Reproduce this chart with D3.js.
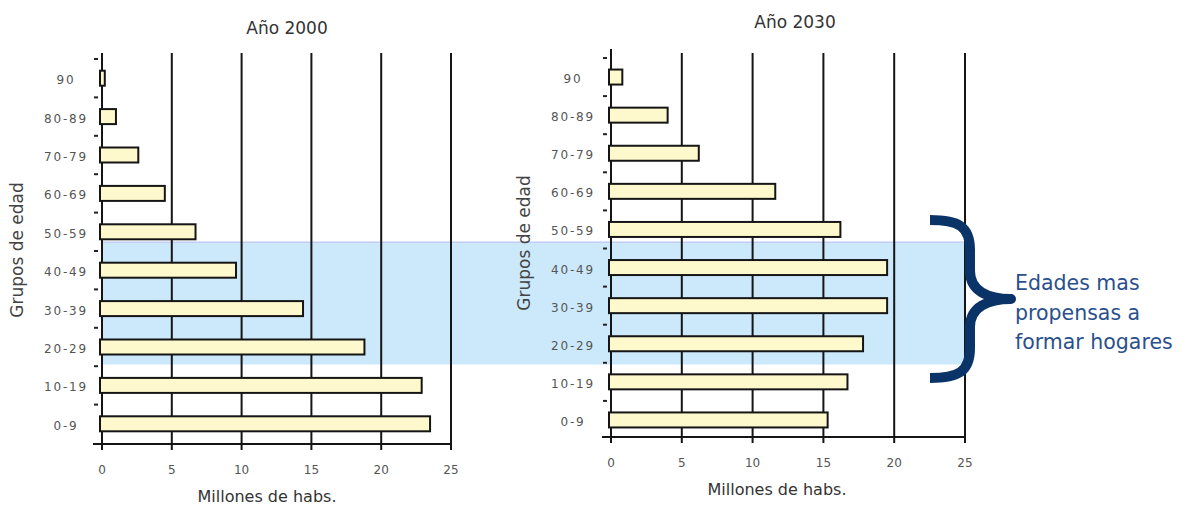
<!DOCTYPE html>
<html>
<head>
<meta charset="utf-8">
<script src="https://cdn.jsdelivr.net/npm/d3@7"></script>
<style>
  html, body { margin: 0; padding: 0; background: #ffffff; }
  svg { display: block; }
</style>
</head>
<body>
<svg id="chart" width="1183" height="506"></svg>
<script>
// ---- data ----
const categories = ["90", "80-89", "70-79", "60-69", "50-59", "40-49", "30-39", "20-29", "10-19", "0-9"];
const values2000 = [0.2, 1.0, 2.6, 4.5, 6.7, 9.6, 14.4, 18.8, 22.9, 23.5];
const values2030 = [0.8, 4.0, 6.2, 11.6, 16.2, 19.5, 19.5, 17.8, 16.7, 15.3];
const xTicks = [0, 5, 10, 15, 20, 25];
const chartTitles = ["Año 2000", "Año 2030"];
const xAxisTitle = "Millones de habs.";
const yAxisTitle = "Grupos de edad";
const highlightCats = ["40-49", "30-39", "20-29"];
const noteLines = ["Edades mas", "propensas a", "formar hogares"];

// ---- layout ----
const svg = d3.select("#chart");
const FONT = "'DejaVu Sans', Verdana, sans-serif";

const panels = [
  { title: chartTitles[0], values: values2000, x0: 102, x1: 451, yTop: 59, yBot: 443, axisTop: 53, gridTop: 53, axisY: 444,
    titleX: 287, titleY: 34, labelX: 66, xLabY: 474, xTitleX: 267, xTitleY: 502, yTitleX: 23, yTitleY: 250 },
  { title: chartTitles[1], values: values2030, x0: 611, x1: 965, yTop: 58, yBot: 439, axisTop: 49, gridTop: 53, axisY: 437,
    titleX: 795, titleY: 28, labelX: 573, xLabY: 467, xTitleX: 777, xTitleY: 495, yTitleX: 530, yTitleY: 243 }
];

panels.forEach(p => {
  p.x = d3.scaleLinear().domain([0, 25]).range([p.x0, p.x1]);
  p.y = d3.scaleBand().domain(categories).range([p.yTop, p.yBot]).padding(0);
});

// highlight band (spans both charts)
const hTop = d3.mean(panels, p => p.y(highlightCats[0])) - 8;
const hBot = d3.mean(panels, p => p.y(highlightCats[highlightCats.length - 1]) + p.y.step());
svg.append("rect")
  .attr("x", panels[0].x(0) + 1).attr("y", hTop)
  .attr("width", panels[1].x(25) - panels[0].x(0)).attr("height", hBot - hTop)
  .attr("fill", "#cce9fb");
svg.append("line")
  .attr("x1", panels[0].x(0) + 1).attr("x2", panels[1].x(25))
  .attr("y1", hTop + 0.5).attr("y2", hTop + 0.5)
  .attr("stroke", "#c6cdf3").attr("stroke-width", 1.5);

panels.forEach(p => {
  const g = svg.append("g");
  const barH = 15;

  // gridlines (incl. tick extensions below axis)
  g.selectAll("line.grid").data(xTicks.slice(1)).join("line")
    .attr("x1", d => p.x(d)).attr("x2", d => p.x(d))
    .attr("y1", p.gridTop).attr("y2", p.axisY + 6)
    .attr("stroke", "#151515").attr("stroke-width", 2);

  // bottom axis line
  g.append("line")
    .attr("x1", p.x(0) - 9).attr("x2", p.x(25))
    .attr("y1", p.axisY).attr("y2", p.axisY)
    .attr("stroke", "#151515").attr("stroke-width", 2);

  // left axis line
  g.append("line")
    .attr("x1", p.x(0)).attr("x2", p.x(0))
    .attr("y1", p.axisTop).attr("y2", p.axisY + 6)
    .attr("stroke", "#151515").attr("stroke-width", 2);

  // category boundary dashes
  const bounds = categories.map(c => p.y(c));
  g.selectAll("line.dash").data(bounds).join("line")
    .attr("x1", p.x(0) - 8).attr("x2", p.x(0) - 4)
    .attr("y1", d => d).attr("y2", d => d)
    .attr("stroke", "#222").attr("stroke-width", 2);

  // bars
  g.selectAll("rect.bar").data(categories.map((c, i) => ({ c, v: p.values[i] }))).join("rect")
    .attr("x", p.x(0) - 2)
    .attr("y", d => p.y(d.c) + (p.y.step() - barH) / 2)
    .attr("width", d => Math.max(1, p.x(d.v) - p.x(0) + 2))
    .attr("height", barH)
    .attr("fill", "#fdf9cc").attr("stroke", "#151515").attr("stroke-width", 2);

  // category labels
  g.selectAll("text.cat").data(categories).join("text")
    .attr("x", p.labelX).attr("y", d => p.y(d) + p.y.step() / 2 + 6)
    .attr("text-anchor", "middle")
    .attr("font-family", FONT).attr("font-size", 12).attr("letter-spacing", 1.8)
    .attr("fill", "#555").text(d => d);

  // x tick labels
  g.selectAll("text.xt").data(xTicks).join("text")
    .attr("x", d => p.x(d)).attr("y", p.xLabY)
    .attr("text-anchor", "middle")
    .attr("font-family", FONT).attr("font-size", 12)
    .attr("fill", "#555").text(d => d);

  // title
  g.append("text").attr("x", p.titleX).attr("y", p.titleY)
    .attr("text-anchor", "middle").attr("font-family", FONT).attr("font-size", 17)
    .attr("fill", "#333").text(p.title);

  // x axis title
  g.append("text").attr("x", p.xTitleX).attr("y", p.xTitleY)
    .attr("text-anchor", "middle").attr("font-family", FONT).attr("font-size", 16)
    .attr("fill", "#333").text(xAxisTitle);

  // y axis title
  g.append("text")
    .attr("transform", `translate(${p.yTitleX},${p.yTitleY}) rotate(-90)`)
    .attr("text-anchor", "middle").attr("font-family", FONT).attr("font-size", 17)
    .attr("fill", "#444").text(yAxisTitle);
});

// curly brace annotation
const bx0 = 930, bxm = 970, bxt = 1011, byT = 220, byB = 378;
const byM = (byT + byB) / 2;
const brace = `M ${bx0} ${byT}
  C ${bx0 + 28} ${byT}, ${bxm} ${byT + 6}, ${bxm} ${byT + 30}
  L ${bxm} ${byM - 28}
  C ${bxm} ${byM - 8}, ${bxm + 18} ${byM}, ${bxt} ${byM}
  C ${bxm + 18} ${byM}, ${bxm} ${byM + 8}, ${bxm} ${byM + 28}
  L ${bxm} ${byB - 30}
  C ${bxm} ${byB - 6}, ${bx0 + 28} ${byB}, ${bx0} ${byB}`;
svg.append("path").attr("d", brace)
  .attr("fill", "none").attr("stroke", "#0a3468").attr("stroke-width", 10)
  .attr("stroke-linejoin", "round");

svg.selectAll("text.note").data(noteLines).join("text")
  .attr("x", 1015).attr("y", (d, i) => 290 + i * 29.5)
  .attr("font-family", FONT).attr("font-size", 20.5)
  .attr("fill", "#2a4f8c").text(d => d);
</script>
</body>
</html>
